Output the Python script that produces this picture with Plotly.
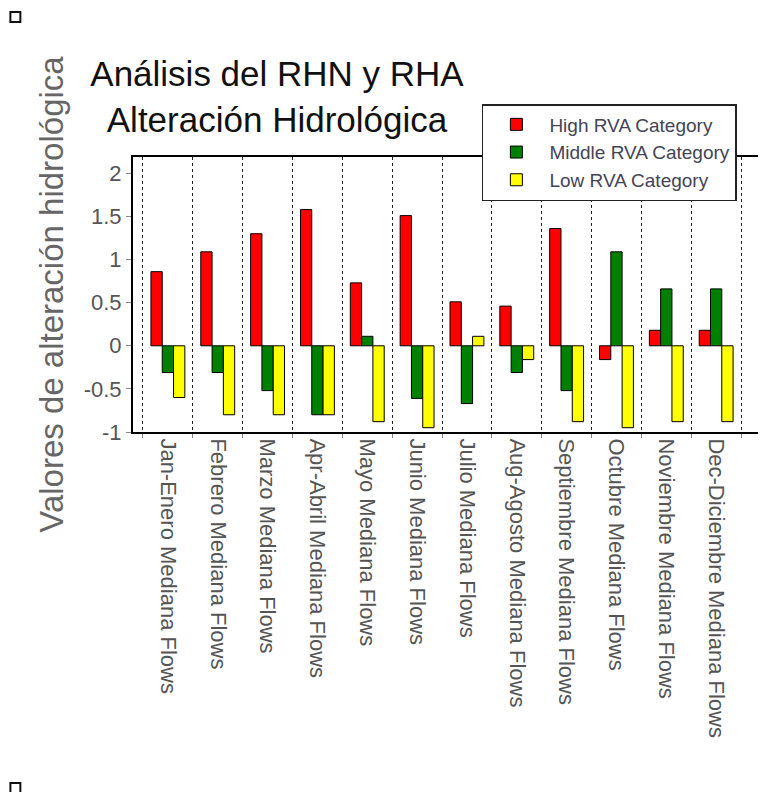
import plotly.graph_objects as go

categories = [
    "Jan-Enero Mediana Flows", "Febrero Mediana Flows", "Marzo Mediana Flows",
    "Apr-Abril Mediana Flows", "Mayo Mediana Flows", "Junio Mediana Flows",
    "Julio Mediana Flows", "Aug-Agosto Mediana Flows", "Septiembre Mediana Flows",
    "Octubre Mediana Flows", "Noviembre Mediana Flows", "Dec-Diciembre Mediana Flows",
]
high_rva = [0.86, 1.09, 1.30, 1.58, 0.73, 1.51, 0.51, 0.46, 1.36, -0.16, 0.18, 0.18]
middle_rva = [-0.31, -0.31, -0.52, -0.80, 0.11, -0.61, -0.67, -0.31, -0.52, 1.09, 0.66, 0.66]
low_rva = [-0.60, -0.80, -0.80, -0.80, -0.88, -0.95, 0.11, -0.16, -0.88, -0.95, -0.88, -0.88]
ytick_vals = [-1, -0.5, 0, 0.5, 1, 1.5, 2]
ytick_text = ["-1", "-0.5", "0", "0.5", "1", "1.5", "2"]

# page has an 8px body margin; figure coordinates are page coords minus 8
W, H = 758, 784
ML, MR, MT, MB = 125, 3, 149, 360
PW, PH = W - ML - MR, H - MT - MB

fig = go.Figure()
for name, vals, col in [
    ("High RVA Category", high_rva, "#ff0000"),
    ("Middle RVA Category", middle_rva, "#008000"),
    ("Low RVA Category", low_rva, "#ffff00"),
]:
    fig.add_trace(go.Bar(x=categories, y=vals, name=name,
                         marker=dict(color=col, line=dict(color="#000000", width=1))))

def px_x(p):
    return (p - ML) / PW

def px_y(p):
    return 1 - (p - MT) / PH

shapes = []
for (x0, y0) in [(2, 4), (2, 775)]:
    shapes.append(dict(type="rect", xref="paper", yref="paper",
                       x0=px_x(x0), x1=px_x(x0 + 10), y0=px_y(y0), y1=px_y(y0 + 10),
                       line=dict(color="#111111", width=2), fillcolor="white"))

fig.update_layout(
    width=W, height=H,
    margin=dict(l=ML, r=MR, t=MT, b=MB),
    paper_bgcolor="white", plot_bgcolor="white",
    barmode="group", bargap=0.32, bargroupgap=0,
    font=dict(family="Liberation Sans, Arial, sans-serif"),
    title=dict(text="Análisis del RHN y RHA<br>Alteración Hidrológica",
               x=269 / W, xanchor="center", xref="container",
               y=1 - 78 / H, yanchor="top", yref="container",
               font=dict(size=35, color="#111111")),
    legend=dict(x=px_x(475), y=px_y(96), xanchor="left", yanchor="top",
                bgcolor="white", bordercolor="#222222", borderwidth=1.5,
                font=dict(size=19, color="#444455"),
                itemwidth=56, tracegroupgap=0),
    shapes=shapes,
    xaxis=dict(
        range=[-0.7, 11.9],
        tickson="boundaries",
        showgrid=True, griddash="dot", gridcolor="#222222", gridwidth=1.2,
        tickangle=90, tickfont=dict(size=22, color="#555555"),
        ticks="outside", ticklen=4, tickcolor="#888888",
        showline=True, linecolor="#000000", linewidth=2, mirror=True,
    ),
    yaxis=dict(
        range=[-1, 2.19],
        tickvals=ytick_vals, ticktext=ytick_text,
        tickfont=dict(size=22, color="#555555"),
        ticks="outside", ticklen=5, tickcolor="#888888",
        showgrid=False, zeroline=False,
        showline=True, linecolor="#000000", linewidth=2, mirror=True,
        title=dict(text="Valores de alteración hidrológica",
                   font=dict(size=33, color="#666666"), standoff=10),
    ),
)

fig.write_html("out.html")
